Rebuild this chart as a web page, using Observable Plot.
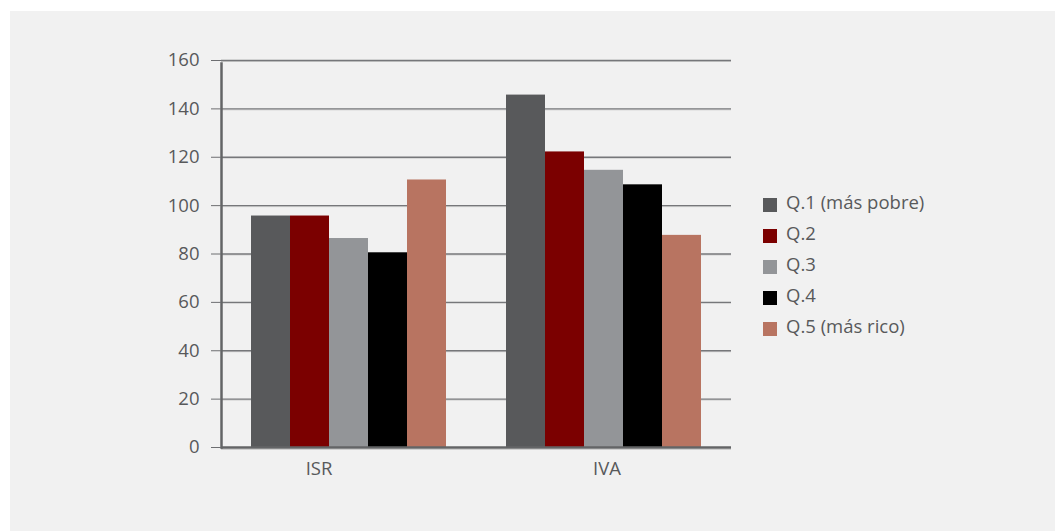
<!DOCTYPE html>
<html><head><meta charset="utf-8">
<script src="https://cdn.jsdelivr.net/npm/d3@7"></script>
<script src="https://cdn.jsdelivr.net/npm/@observablehq/plot@0.6"></script>
<style>
html,body{margin:0;padding:0;background:#fff;width:1055px;height:531px;overflow:hidden;font-family:"Open Sans",sans-serif;}
#bg{position:absolute;left:10px;top:11px;right:0;bottom:0;background:#f1f1f1;}
#chart{position:absolute;left:0;top:0;}
#legend{position:absolute;left:763px;top:186px;color:#58595b;font-size:18.5px;}
.row{height:31px;line-height:31px;white-space:nowrap;position:relative;padding-left:23px;}
.sw{position:absolute;left:0;top:12px;width:14px;height:14px;}
</style></head>
<body>
<div id="bg"></div>
<div id="chart"></div>
<div id="legend"></div>
<script>
const groups = ["ISR", "IVA"];
const quintiles = ["Q.1 (más pobre)", "Q.2", "Q.3", "Q.4", "Q.5 (más rico)"];
const isrValues = [95.7, 95.7, 86.4, 80.5, 110.6];
const ivaValues = [145.7, 122.2, 114.6, 108.6, 87.7];
const colors = ["#58595b", "#7b0000", "#939598", "#000000", "#b87461"];
const yTicks = [0, 20, 40, 60, 80, 100, 120, 140, 160];

const data = [
  ...quintiles.map((q, i) => ({group: "ISR", q, value: isrValues[i]})),
  ...quintiles.map((q, i) => ({group: "IVA", q, value: ivaValues[i]}))
];
const grid = yTicks.filter(t => t > 0);

const chart = Plot.plot({
  width: 1055, height: 531,
  marginLeft: 221, marginRight: 324, marginTop: 60, marginBottom: 84,
  fx: {domain: groups, padding: 0, axis: null},
  x: {domain: quintiles, paddingInner: 0, paddingOuter: 0.736, axis: null},
  y: {domain: [0, 160], axis: null},
  color: {domain: quintiles, range: colors},
  style: {background: "transparent", color: "#58595b", fontFamily: "'Open Sans', sans-serif", fontSize: "18px"},
  marks: [
    Plot.ruleY(grid, {stroke: "#d2d2d2", strokeWidth: 1, dy: 1}),
    Plot.ruleY(grid, {stroke: "#76777a", strokeWidth: 1.3}),
    Plot.barY(data, {fx: "group", x: "q", y: "value", fill: "q"}),
    Plot.ruleY([0], {stroke: "#cfcfcf", strokeWidth: 1, dy: 2}),
    Plot.ruleY([0], {stroke: "#636466", strokeWidth: 2.5}),
    Plot.frame({anchor: "left", facetAnchor: "left", stroke: "#636466", strokeWidth: 2.5, insetTop: 3}),
    Plot.axisY({ticks: yTicks, tickSize: 10, tickPadding: 12, label: null, stroke: "#6d6e71", fill: "#58595b", fontSize: 18.5, tickFormat: d => String(d)}),
    Plot.text(["ISR"], {fx: d => d, text: d => d, frameAnchor: "bottom", dy: 27, dx: -30, fontSize: 18.5, fill: "#58595b"}),
    Plot.text(["IVA"], {fx: d => d, text: d => d, frameAnchor: "bottom", dy: 27, dx: 3, fontSize: 18.5, fill: "#58595b"})
  ]
});
document.getElementById("chart").append(chart);

const legend = document.getElementById("legend");
quintiles.forEach((q, i) => {
  const row = document.createElement("div");
  row.className = "row";
  const sw = document.createElement("span");
  sw.className = "sw";
  sw.style.background = colors[i];
  row.append(sw, document.createTextNode(q));
  legend.append(row);
});
</script>
</body></html>
